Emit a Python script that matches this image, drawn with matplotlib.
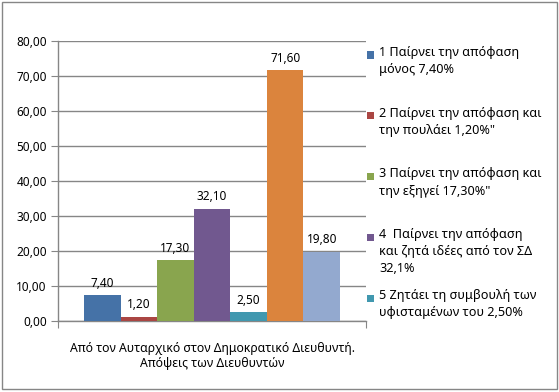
import matplotlib
matplotlib.use("Agg")
import matplotlib.pyplot as plt
from matplotlib.patches import Rectangle

plt.rcParams['font.family'] = ['Noto Sans', 'DejaVu Sans']

category = "Από τον Αυταρχικό στον Δημοκρατικό Διευθυντή.\nΑπόψεις των Διευθυντών"
values = [7.40, 1.20, 17.30, 32.10, 2.50, 71.60, 19.80]
value_labels = ["7,40", "1,20", "17,30", "32,10", "2,50", "71,60", "19,80"]
series_names = [
    "1 Παίρνει την απόφαση\nμόνος 7,40%",
    "2 Παίρνει την απόφαση και\nτην πουλάει 1,20%\"",
    "3 Παίρνει την απόφαση και\nτην εξηγεί 17,30%\"",
    "4  Παίρνει την απόφαση\nκαι ζητά ιδέες από τον ΣΔ\n32,1%",
    "5 Ζητάει τη συμβουλή των\nυφισταμένων του 2,50%",
]
colors = ["#4572A7", "#AA4643", "#89A54E", "#71588F", "#4198AF", "#DB843D", "#93A9CF"]
yticks = [0, 10, 20, 30, 40, 50, 60, 70, 80]
ytick_labels = ["0,00", "10,00", "20,00", "30,00", "40,00", "50,00", "60,00", "70,00", "80,00"]

W, H = 559, 392
fig = plt.figure(figsize=(W / 100, H / 100), dpi=100)
fig.patch.set_facecolor("white")
fig.add_artist(Rectangle((0.004, 0.008), 0.992, 0.987, transform=fig.transFigure,
                         fill=False, edgecolor="#868686", linewidth=1.0))

ax = fig.add_axes([58 / W, 1 - 321 / H, 308 / W, 280 / H])
fs = 8.5
fs_leg = 9.1
fs_cat = 8.8
n = len(values)
group = 0.831
w = group / n
grey = "#868686"
for i, (v, lab, c) in enumerate(zip(values, value_labels, colors)):
    x = -group / 2 + w * (i + 0.5)
    ax.bar(x, v, width=w, color=c, edgecolor="none", zorder=3)
    ax.annotate(lab, (x, v), xytext=(0, 4), textcoords="offset points",
                ha="center", va="bottom", fontsize=fs, color="black")

ax.set_xlim(-0.5, 0.5)
ax.set_ylim(0, 80)
ax.set_yticks(yticks)
ax.set_yticklabels(ytick_labels, fontsize=fs)
ax.yaxis.grid(True, color=grey, linewidth=1.0, zorder=0)
ax.set_xticks([-0.5, 0.5])
ax.set_xticklabels(["", ""])
ax.set_xticks([0], minor=True)
ax.set_xticklabels([category], minor=True, fontsize=fs_cat)
ax.tick_params(axis="x", which="minor", length=0, pad=15)
ax.tick_params(axis="x", which="major", length=5, color=grey, direction="out")
ax.tick_params(axis="y", length=5, color=grey, direction="out", pad=3)
for s in ["top", "right"]:
    ax.spines[s].set_visible(False)
for s in ["left", "bottom"]:
    ax.spines[s].set_color(grey)
    ax.spines[s].set_linewidth(1.0)

# legend (Excel style: marker beside first line, fixed slot spacing)
slot0, slot_step = 55.0, 60.75
for i, name in enumerate(series_names):
    yc = slot0 + slot_step * i
    fig.add_artist(Rectangle((367 / W, 1 - (yc + 3.5) / H), 7 / W, 7 / H,
                             transform=fig.transFigure, facecolor=colors[i],
                             edgecolor="none"))
    fig.text(379 / W, 1 - (yc - 9) / H, name, fontsize=fs_leg, va="top",
             ha="left", linespacing=1.4)

fig.savefig("out.png", dpi=100)
